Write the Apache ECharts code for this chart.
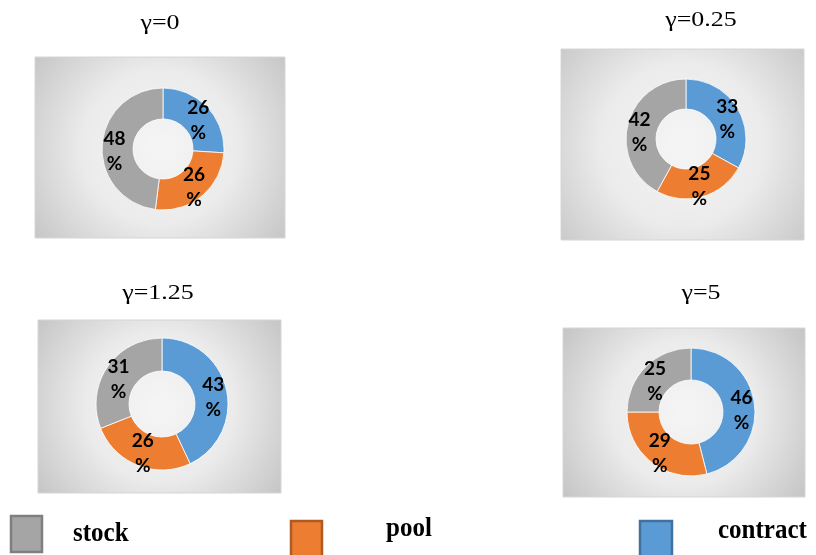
<!DOCTYPE html>
<html>
<head>
<meta charset="utf-8">
<script src="https://cdn.jsdelivr.net/npm/echarts@6/dist/echarts.min.js"></script>
<style>
  html, body { margin: 0; padding: 0; background: #ffffff; }
  #chart { width: 816px; height: 555px; }
</style>
</head>
<body>
<div id="chart"></div>
<script>
// Share of each channel (%) for four values of gamma
const categories = ['contract', 'pool', 'stock'];
const legendOrder = ['stock', 'pool', 'contract'];
const gammaLabels = ['γ=0', 'γ=0.25', 'γ=1.25', 'γ=5'];
const contractShare = [26, 33, 43, 46];
const poolShare = [26, 25, 26, 29];
const stockShare = [48, 42, 31, 25];

const palette = { contract: '#5B9BD5', pool: '#ED7D31', stock: '#A5A5A5' };
const edgeColors = { contract: '#41719C', pool: '#AE5A21', stock: '#7F7F7F' };

// Panel geometry: background box, donut centre/radii, title anchor (centre)
const panels = [
  { box: [35, 57, 250, 181], c: [163, 149], r: [30, 61], title: [160, 23] },
  { box: [561, 49, 243, 191], c: [686, 139], r: [30, 60], title: [701, 20] },
  { box: [38, 320, 243, 173], c: [162, 404], r: [33, 66], title: [158, 293] },
  { box: [563, 328, 242, 169], c: [691, 412], r: [32, 64], title: [701, 293] }
];

// Legend placement: swatch box and text anchor (left, vertical middle)
const legendPos = [
  { box: [11, 516, 31, 36], text: [73, 534] },
  { box: [291, 521, 31, 36], text: [386, 529] },
  { box: [640, 521, 32, 36], text: [718, 531] }
];

const shares = { contract: contractShare, pool: poolShare, stock: stockShare };

const boxGraphics = panels.map(p => ({
  type: 'rect',
  silent: true,
  z: -10,
  shape: { x: p.box[0], y: p.box[1], width: p.box[2], height: p.box[3] },
  style: {
    fill: {
      type: 'radial', x: 0.5, y: 0.5, r: 0.95,
      colorStops: [
        { offset: 0, color: '#f5f5f5' },
        { offset: 0.45, color: '#ebebeb' },
        { offset: 1, color: '#bdbdbd' }
      ]
    },
    stroke: '#d6d6d6',
    lineWidth: 1
  }
}));

// Panel headings, drawn slightly widened like the original typesetting
const titleGraphics = panels.map((p, i) => ({
  type: 'text',
  silent: true,
  x: p.title[0],
  y: p.title[1],
  scaleX: 1.18,
  style: {
    text: gammaLabels[i],
    x: 0,
    y: 0,
    align: 'center',
    verticalAlign: 'middle',
    fontFamily: 'Liberation Serif',
    fontSize: 22,
    fill: '#000'
  }
}));

// Shared legend along the bottom edge
const legendGraphics = [];
legendOrder.forEach((name, k) => {
  const lp = legendPos[k];
  legendGraphics.push({
    type: 'rect',
    silent: true,
    shape: { x: lp.box[0], y: lp.box[1], width: lp.box[2], height: lp.box[3] },
    style: { fill: palette[name], stroke: edgeColors[name], lineWidth: 2.5 }
  });
  legendGraphics.push({
    type: 'text',
    silent: true,
    x: lp.text[0],
    y: lp.text[1],
    scaleY: 1.1,
    style: {
      text: name,
      x: 0,
      y: 0,
      align: 'left',
      verticalAlign: 'middle',
      fontFamily: 'Liberation Serif',
      fontWeight: 'bold',
      fontSize: 25,
      fill: '#000'
    }
  });
});

const series = panels.map((p, i) => ({
  type: 'pie',
  center: p.c,
  radius: p.r,
  startAngle: 90,
  clockwise: true,
  avoidLabelOverlap: false,
  silent: true,
  itemStyle: { borderColor: '#ffffff', borderWidth: 0.8 },
  label: {
    show: true,
    position: 'inside',
    formatter: d => d.value + '\n%',
    fontFamily: 'Lato',
    fontWeight: 'bold',
    fontSize: 19,
    lineHeight: 25,
    color: '#000'
  },
  // labels in the upper half and at the sides sit a little lower in the ring
  labelLayout: params => {
    const lr = params.labelRect;
    const midY = lr.y + lr.height / 2;
    const rel = (midY - p.c[1]) / ((p.r[0] + p.r[1]) / 2);
    return { dy: rel < 0.3 ? 5 : 1 };
  },
  labelLine: { show: false },
  data: categories.map(name => ({
    name: name,
    value: shares[name][i],
    itemStyle: { color: palette[name] }
  }))
}));

const chart = echarts.init(document.getElementById('chart'), null, { renderer: 'canvas' });
chart.setOption({
  animation: false,
  backgroundColor: '#ffffff',
  graphic: boxGraphics.concat(titleGraphics, legendGraphics),
  series: series
});
</script>
</body>
</html>
